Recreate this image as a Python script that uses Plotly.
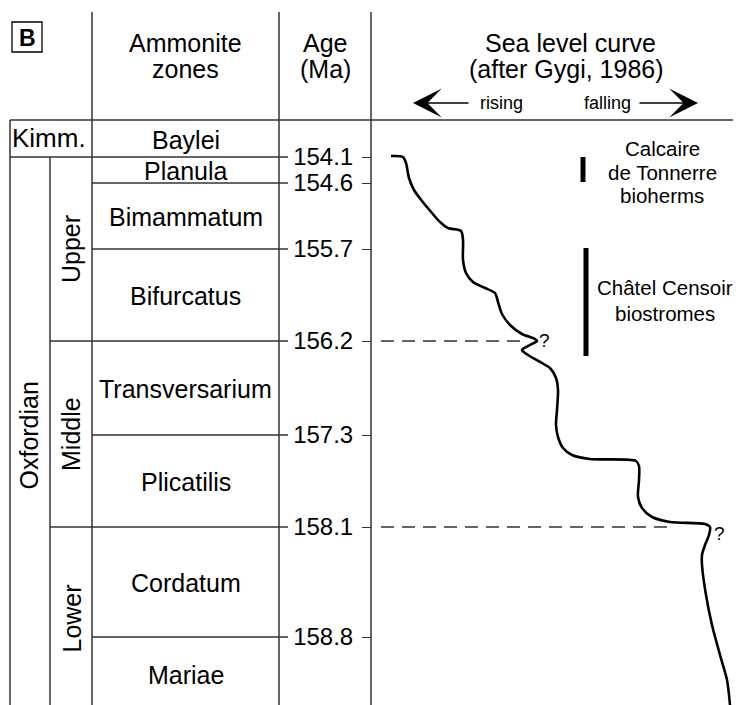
import plotly.graph_objects as go

# ---------------- data ----------------
zones = ["Baylei", "Planula", "Bimammatum", "Bifurcatus",
         "Transversarium", "Plicatilis", "Cordatum", "Mariae"]
boundary_ages = ["154.1", "154.6", "155.7", "156.2", "157.3", "158.1", "158.8"]
# schematic depth of each zone boundary (diagram units, top = 0)
boundary_depth = [157, 183, 249, 341, 435, 527, 637]
zone_top = 120
zone_bottom = 710

substages = ["Upper", "Middle", "Lower"]
substage_bounds = [157, 341, 527, 710]

# sea level curve (x: relative sea level, right = falling)
sea_level = [391, 403, 406, 409, 414, 422, 432, 440, 448, 461, 463, 463, 466, 473,
             485, 495, 498, 502, 510, 522, 535, 537, 530, 522, 528, 542, 550, 556,
             558, 557, 556, 558, 563, 572, 590, 636, 639, 639, 638, 642, 652, 670,
             705, 710, 709, 705, 702, 702, 706, 712, 720, 727, 730]
sea_depth = [156, 157, 163, 178, 190, 201, 213, 222, 228, 231, 240, 260, 273, 282,
             288, 293, 302, 314, 325, 334, 339, 341, 345, 350, 355, 363, 368, 378,
             390, 410, 425, 437, 448, 455, 459, 461, 466, 480, 497, 508, 517, 522,
             524, 527, 535, 545, 555, 565, 595, 625, 655, 680, 705]

# uncertain correlations (dashed) : depth and extent of curve
dash_depth = [341, 527]
dash_end = [523, 672]

# biofacies ranges (depth)
facies_top = [157, 248]
facies_bottom = [182, 356]

# ---------------- layout constants ----------------
W, H = 741, 705
OFF = 8  # page body margin
FONT = "Liberation Sans, Arial, Helvetica, sans-serif"
LC = "#333333"
LW = 1.5
x_left, x_sub, x_zone, x_age, x_curve = 10, 50, 92, 279, 371
x_line_end = 288
FS = 25

fig = go.Figure()

shapes = []
def hline(x0, x1, y, dash=None, color=LC, width=LW):
    shapes.append(dict(type="line", xref="x", yref="y", x0=x0, x1=x1, y0=y, y1=y,
                       line=dict(color=color, width=width, dash=dash)))
def vline(x, y0, y1, color=LC, width=LW):
    shapes.append(dict(type="line", xref="x", yref="y", x0=x, x1=x, y0=y0, y1=y1,
                       line=dict(color=color, width=width)))

# column lines
vline(x_left, zone_top, zone_bottom)
vline(x_sub, boundary_depth[0], zone_bottom)
for xx in (x_zone, x_age, x_curve):
    vline(xx, 12, zone_bottom)
# header separator
hline(x_left, W + 5, zone_top)
# zone boundaries
for i, d in enumerate(boundary_depth):
    if i == 0:
        x0 = x_left
    elif d in substage_bounds:
        x0 = x_sub
    else:
        x0 = x_zone
    hline(x0, x_line_end, d)

# dashed correlation lines
for d, e in zip(dash_depth, dash_end):
    hline(381, e, d, dash="13px,8px")

# facies bars
for t, b in zip(facies_top, facies_bottom):
    xb = 583 if b - t < 40 else 586
    shapes.append(dict(type="line", xref="x", yref="y", x0=xb, x1=xb, y0=t, y1=b,
                       line=dict(color="black", width=5)))

# "B" panel box
shapes.append(dict(type="rect", xref="x", yref="y", x0=12, x1=42, y0=22, y1=52,
                   line=dict(color="black", width=1.3)))

# sea level curve
fig.add_trace(go.Scatter(x=sea_level, y=sea_depth, mode="lines",
                         line=dict(color="black", width=2.6, shape="spline", smoothing=0.8),
                         hoverinfo="skip", showlegend=False))

ann = []
def text(x, y, s, size=FS, angle=0, **kw):
    d = dict(x=x, y=y, xref="x", yref="y", text=s, showarrow=False,
             font=dict(family=FONT, size=size, color="black"),
             xanchor="center", yanchor="middle", textangle=angle)
    d.update(kw)
    ann.append(d)

# headers
text(185, 43, "Ammonite"); text(185, 69, "zones")
text(325, 43, "Age"); text(325, 69, "(Ma)")
text(570, 43, "Sea level curve"); text(566, 69, "(after Gygi, 1986)")
text(501, 103, "rising", size=18)
text(607, 103, "falling", size=18)
text(27, 38, "<b>B</b>", size=23)

# arrows
for tip, tail in ((413, 470), (698, 638)):
    ann.append(dict(x=tip, y=103, ax=tail, ay=103, xref="x", yref="y",
                    axref="x", ayref="y", showarrow=True, text="",
                    arrowhead=3, arrowsize=3.2, arrowwidth=1.5, arrowcolor="black"))

# zones
edges = [zone_top] + boundary_depth + [zone_bottom]
for i, z in enumerate(zones):
    text((x_zone + x_age) / 2, (edges[i] + edges[i + 1]) / 2 + 1, z)
text(49, 138, "Kimm.", size=26)
text(28, (boundary_depth[0] + zone_bottom) / 2 + 2, "Oxfordian", angle=-90)
for i, s in enumerate(substages):
    text(71, (substage_bounds[i] + substage_bounds[i + 1]) / 2, s, angle=-90)

# facies labels
text(662, 148, "Calcaire", size=20.5)
text(662, 172, "de Tonnerre", size=20.5)
text(662, 195, "bioherms", size=20.5)
text(665, 287, "Châtel Censoir", size=20.5)
text(665, 313, "biostromes", size=20.5)

# question marks
text(544, 340, "?", size=19)
text(719, 533, "?", size=19)

fig.update_layout(
    width=W - OFF, height=H - OFF, margin=dict(l=0, r=0, t=0, b=0),
    plot_bgcolor="white", paper_bgcolor="white",
    shapes=shapes, annotations=ann, showlegend=False,
    xaxis=dict(range=[OFF, W], visible=False, fixedrange=True),
    yaxis=dict(range=[H, OFF], showgrid=False, zeroline=False, showline=False,
               anchor="free", position=(x_curve - OFF) / (W - OFF), side="left",
               tickmode="array", tickvals=boundary_depth, ticktext=boundary_ages,
               ticks="outside", ticklen=9, tickwidth=1.2, tickcolor=LC,
               tickfont=dict(family=FONT, size=24, color="black"),
               ticklabelstandoff=4, fixedrange=True),
)

fig.write_html("out.html")
